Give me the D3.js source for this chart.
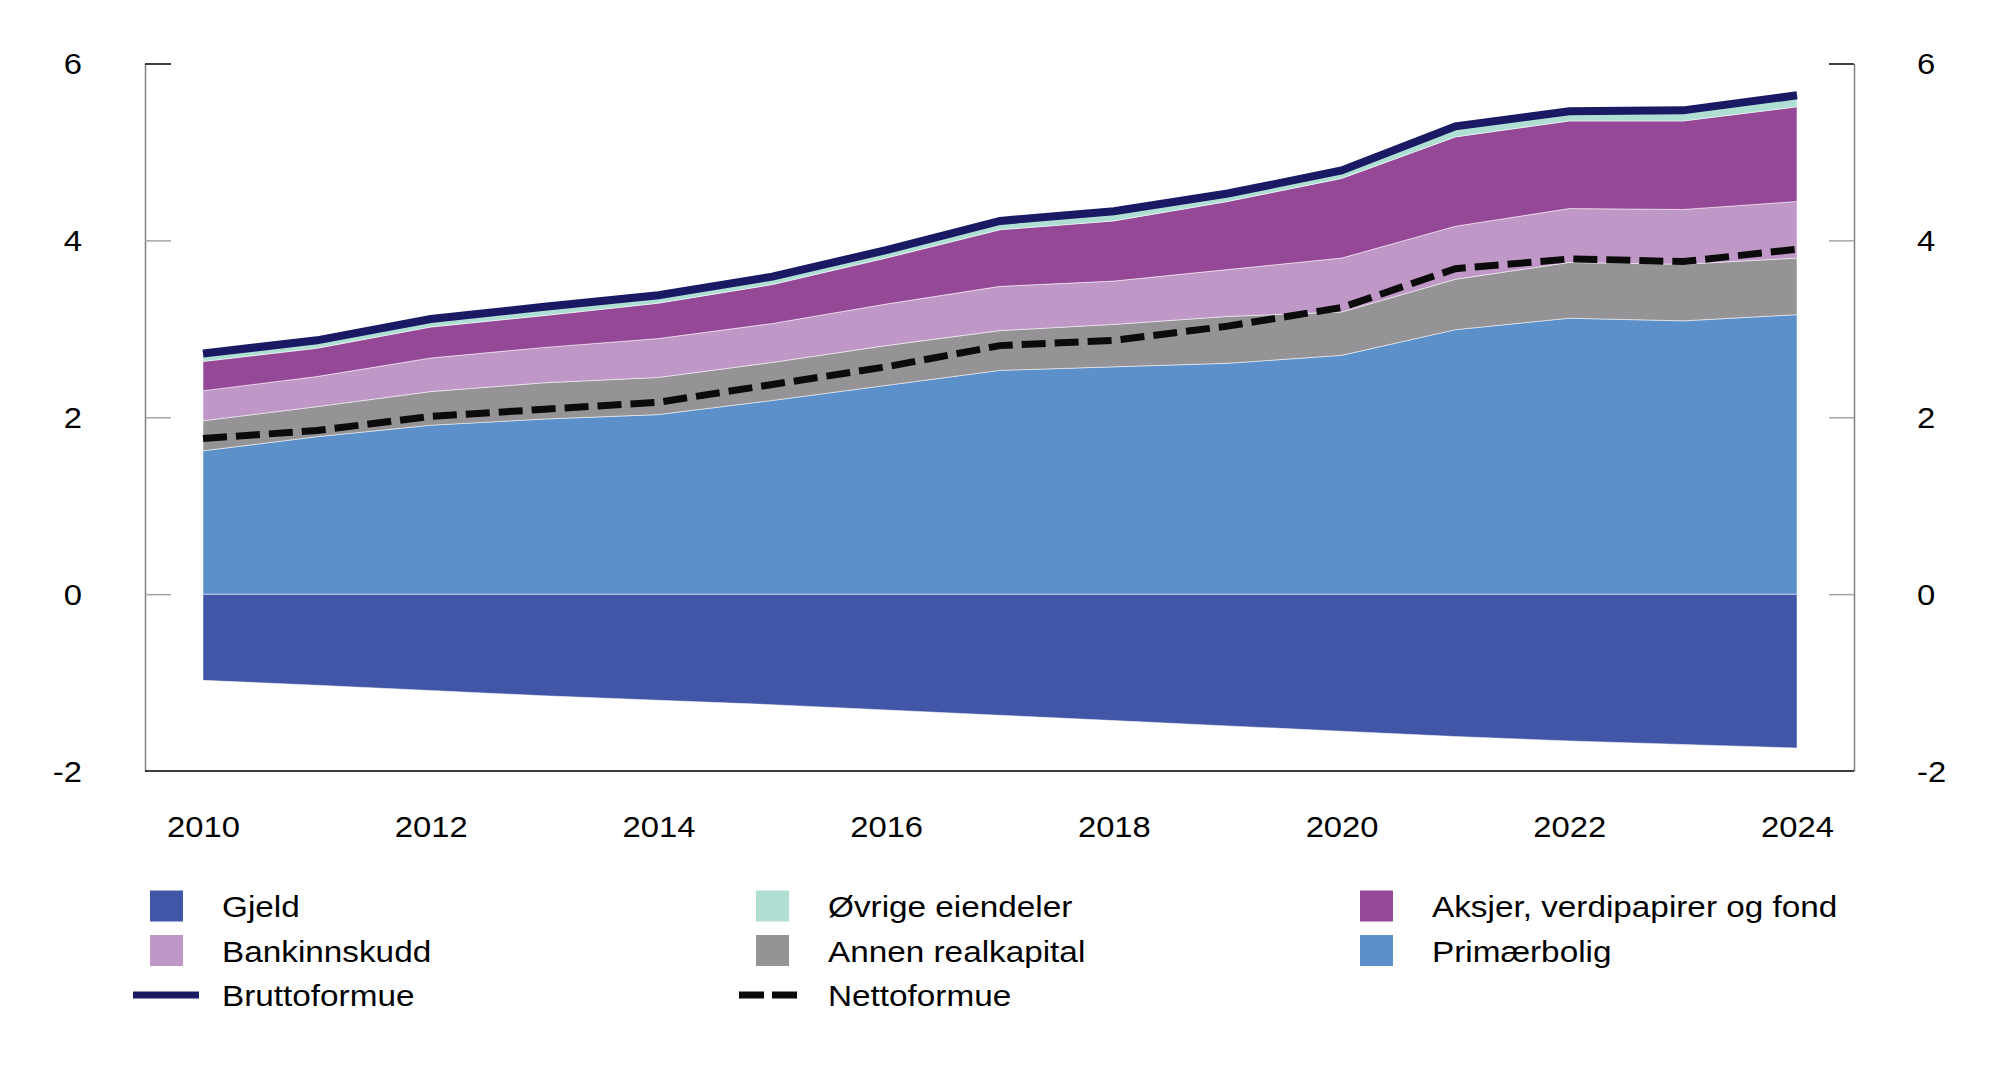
<!DOCTYPE html>
<html>
<head>
<meta charset="utf-8">
<script src="https://cdn.jsdelivr.net/npm/d3@7"></script>
<style>
  body { margin: 0; background: #fff; }
  svg { display: block; font-family: "Liberation Sans", Arial, sans-serif; }
</style>
</head>
<body>
<svg id="chart" width="2000" height="1088"></svg>
<script>
// Values
const years = [2010, 2011, 2012, 2013, 2014, 2015, 2016, 2017, 2018, 2019, 2020, 2021, 2022, 2023, 2024];
const primaerbolig = [1.62, 1.78, 1.91, 1.98, 2.03, 2.19, 2.36, 2.53, 2.57, 2.61, 2.70, 2.99, 3.12, 3.09, 3.16];
const annenRealkapital = [0.34, 0.34, 0.38, 0.41, 0.42, 0.43, 0.45, 0.45, 0.48, 0.53, 0.49, 0.57, 0.63, 0.64, 0.64];
const bankinnskudd = [0.34, 0.34, 0.38, 0.40, 0.44, 0.44, 0.47, 0.50, 0.49, 0.53, 0.61, 0.60, 0.61, 0.62, 0.64];
const aksjer = [0.33, 0.32, 0.35, 0.36, 0.40, 0.44, 0.52, 0.64, 0.68, 0.77, 0.90, 1.01, 0.99, 1.00, 1.07];
const ovrige = [0.09, 0.09, 0.09, 0.10, 0.09, 0.09, 0.09, 0.10, 0.11, 0.09, 0.09, 0.12, 0.11, 0.12, 0.13];
const gjeld = [-0.975, -1.03, -1.09, -1.15, -1.20, -1.25, -1.31, -1.37, -1.43, -1.49, -1.55, -1.61, -1.66, -1.70, -1.74];
const nettoformue = [1.76, 1.85, 2.01, 2.09, 2.17, 2.37, 2.57, 2.81, 2.87, 3.03, 3.24, 3.68, 3.79, 3.76, 3.90];
const yTicks = [-2, 0, 2, 4, 6];
const xTicks = [2010, 2012, 2014, 2016, 2018, 2020, 2022, 2024];

const stackKeys = ['Primærbolig', 'Annen realkapital', 'Bankinnskudd', 'Aksjer, verdipapirer og fond', 'Øvrige eiendeler'];
const colors = {
  'Gjeld': '#4156a6',
  'Primærbolig': '#5b90cb',
  'Annen realkapital': '#959396',
  'Bankinnskudd': '#c098c8',
  'Aksjer, verdipapirer og fond': '#944896',
  'Øvrige eiendeler': '#afdfd3',
  'Bruttoformue': '#191a63',
  'Nettoformue': '#0b0b0b'
};

const rows = years.map((yr, i) => ({
  year: yr,
  'Primærbolig': primaerbolig[i],
  'Annen realkapital': annenRealkapital[i],
  'Bankinnskudd': bankinnskudd[i],
  'Aksjer, verdipapirer og fond': aksjer[i],
  'Øvrige eiendeler': ovrige[i],
  gjeld: gjeld[i],
  netto: nettoformue[i]
}));

const svg = d3.select('#chart');
const plotLeft = 145, plotRight = 1854, plotTop = 63.5, plotBottom = 771;
// the original text is a bit wider than Liberation Sans
const stretch = 1.13;

const x = d3.scaleLinear().domain([2010, 2024]).range([203, 1797]);
const y = d3.scaleLinear().domain([-2, 6]).range([plotBottom, plotTop]);

const stacked = d3.stack().keys(stackKeys)(rows);

const area = d3.area()
  .x(d => x(d.data.year))
  .y0(d => y(d[0]))
  .y1(d => y(d[1]));

// gjeld below zero
svg.append('path')
  .datum(rows)
  .attr('fill', colors['Gjeld'])
  .attr('stroke', 'rgba(255,255,255,0.5)')
  .attr('stroke-width', 1)
  .attr('d', d3.area().x(d => x(d.year)).y0(y(0)).y1(d => y(d.gjeld)));

svg.selectAll('.layer')
  .data(stacked)
  .enter()
  .append('path')
  .attr('class', 'layer')
  .attr('fill', d => colors[d.key])
  .attr('stroke', 'rgba(255,255,255,0.5)')
  .attr('stroke-width', 1)
  .attr('d', area);

// bruttoformue = top of the asset stack
const topLayer = stacked[stacked.length - 1];
svg.append('path')
  .datum(topLayer)
  .attr('fill', 'none')
  .attr('stroke', colors['Bruttoformue'])
  .attr('stroke-width', 8)
  .attr('d', d3.line().x(d => x(d.data.year)).y(d => y(d[1])));

svg.append('path')
  .datum(rows)
  .attr('fill', 'none')
  .attr('stroke', colors['Nettoformue'])
  .attr('stroke-width', 7)
  .attr('stroke-dasharray', '24,9')
  .attr('d', d3.line().x(d => x(d.year)).y(d => y(d.netto)));

// axes
const fmtY = d => String(d);
const leftAxis = d3.axisLeft(y).tickValues(yTicks).tickFormat(fmtY).tickSize(-26).tickSizeOuter(0).tickPadding(63);
const rightAxis = d3.axisRight(y).tickValues(yTicks).tickFormat(fmtY).tickSize(-25).tickSizeOuter(0).tickPadding(63);

function styleY(g) {
  g.select('.domain').attr('stroke', '#808080').attr('stroke-width', 1.5);
  g.selectAll('.tick line')
    .attr('stroke', d => d === 6 ? '#000' : '#a6a6a6')
    .attr('stroke-width', 1.5);
  g.selectAll('.tick text')
    .attr('font-size', 29)
    .attr('fill', '#000')
    .attr('dy', '0.35em')
    .attr('transform', function () {
      const tx = +this.getAttribute('x');
      this.setAttribute('x', 0);
      return `translate(${tx},0) scale(${stretch},1)`;
    });
  g.selectAll('.tick').filter(d => d === -2).select('line').remove();
}

svg.append('g')
  .attr('transform', `translate(${plotLeft},0)`)
  .call(leftAxis)
  .call(g => g.attr('font-family', null).attr('font-size', null))
  .call(styleY);

svg.append('g')
  .attr('transform', `translate(${plotRight},0)`)
  .call(rightAxis)
  .call(g => g.attr('font-family', null).attr('font-size', null))
  .call(styleY);

const xAxis = d3.axisBottom(x).tickValues(xTicks).tickFormat(d3.format('d')).tickSize(0).tickPadding(45);
svg.append('g')
  .attr('transform', `translate(0,${plotBottom})`)
  .call(xAxis)
  .call(g => g.attr('font-family', null).attr('font-size', null))
  .call(g => g.select('.domain').remove())
  .call(g => g.selectAll('.tick text')
    .attr('font-size', 29)
    .attr('fill', '#000')
    .attr('transform', `scale(${stretch},1)`));

svg.append('line')
  .attr('x1', plotLeft).attr('x2', plotRight)
  .attr('y1', plotBottom).attr('y2', plotBottom)
  .attr('stroke', '#000')
  .attr('stroke-width', 1.5);

// legend
const legendItems = [
  { name: 'Gjeld', type: 'box', col: 0, row: 0 },
  { name: 'Øvrige eiendeler', type: 'box', col: 1, row: 0 },
  { name: 'Aksjer, verdipapirer og fond', type: 'box', col: 2, row: 0 },
  { name: 'Bankinnskudd', type: 'box', col: 0, row: 1 },
  { name: 'Annen realkapital', type: 'box', col: 1, row: 1 },
  { name: 'Primærbolig', type: 'box', col: 2, row: 1 },
  { name: 'Bruttoformue', type: 'line', col: 0, row: 2 },
  { name: 'Nettoformue', type: 'dash', col: 1, row: 2 }
];
const colX = [150, 756, 1360];
const rowY = [906.5, 951, 995];

const leg = svg.selectAll('.legend')
  .data(legendItems)
  .enter()
  .append('g')
  .attr('class', 'legend')
  .attr('transform', d => `translate(${colX[d.col]},${rowY[d.row]})`);

leg.filter(d => d.type === 'box')
  .append('rect')
  .attr('x', 0).attr('y', -16)
  .attr('width', 33).attr('height', 31)
  .attr('fill', d => colors[d.name]);

leg.filter(d => d.type === 'line')
  .append('line')
  .attr('x1', -17).attr('x2', 49)
  .attr('stroke', d => colors[d.name])
  .attr('stroke-width', 7);

leg.filter(d => d.type === 'dash')
  .append('line')
  .attr('x1', -17).attr('x2', 41)
  .attr('stroke', d => colors[d.name])
  .attr('stroke-width', 7)
  .attr('stroke-dasharray', '25,8');

leg.append('text')
  .attr('transform', 'translate(72,0) scale(1.11,1)')
  .attr('dy', '0.35em')
  .attr('font-size', 30)
  .attr('fill', '#000')
  .text(d => d.name);
</script>
</body>
</html>
